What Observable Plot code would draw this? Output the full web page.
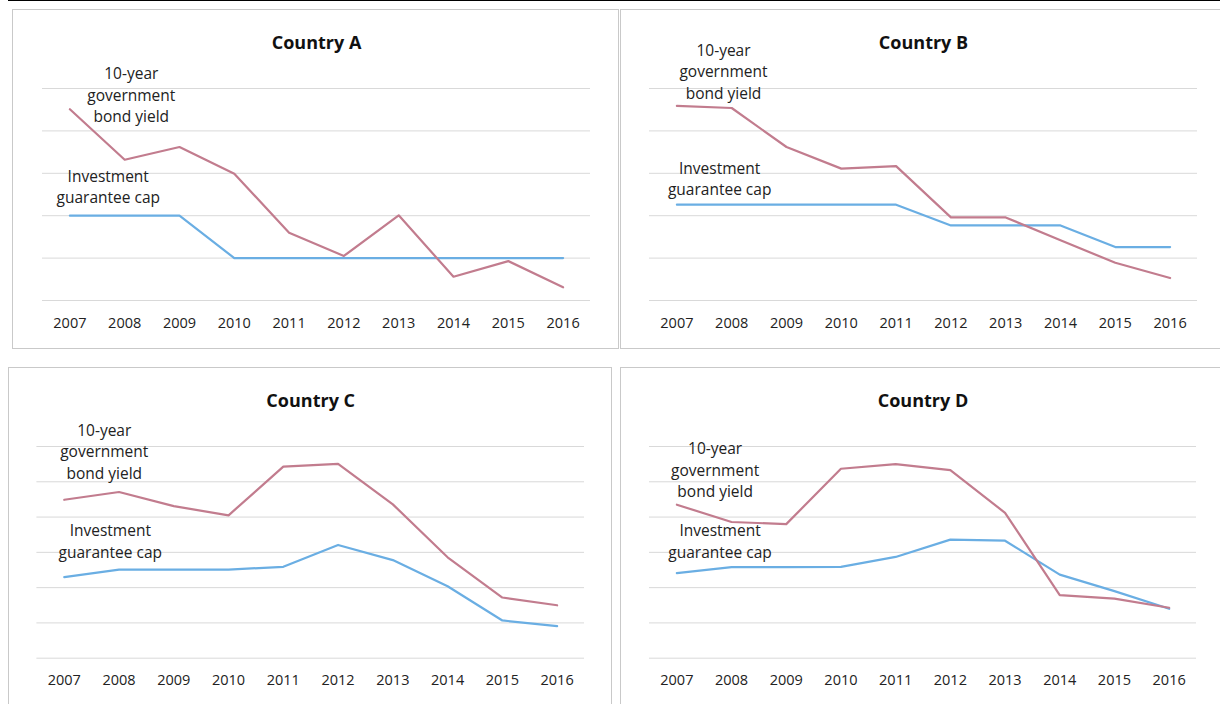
<!DOCTYPE html>
<html>
<head>
<meta charset="utf-8">
<script src="https://cdn.jsdelivr.net/npm/d3@7"></script>
<script src="https://cdn.jsdelivr.net/npm/@observablehq/plot@0.6"></script>
<style>
  html, body { margin: 0; padding: 0; background: #fff; }
  body { width: 1220px; height: 704px; position: relative; overflow: hidden; font-family: "Open Sans", sans-serif; }
  .topline { position: absolute; left: 8px; top: 0; width: 1212px; height: 1px; background: #000; }
  .panel { position: absolute; box-sizing: border-box; border: 1px solid #c9c9c9; background: #fff; }
  .panel svg { display: block; }
</style>
</head>
<body>
<div class="topline"></div>
<script>
// ---- data ----
const years = [2007, 2008, 2009, 2010, 2011, 2012, 2013, 2014, 2015, 2016];

const titles = ["Country A", "Country B", "Country C", "Country D"];

const bondA = [4.51, 3.32, 3.62, 2.99, 1.60, 1.05, 2.01, 0.56, 0.93, 0.31];
const capA  = [2.00, 2.00, 2.00, 1.00, 1.00, 1.00, 1.00, 1.00, 1.00, 1.00];

const bondB = [4.59, 4.54, 3.62, 3.11, 3.17, 1.96, 1.96, 1.42, 0.89, 0.53];
const capB  = [2.26, 2.26, 2.26, 2.26, 2.26, 1.77, 1.77, 1.77, 1.26, 1.26];

const bondC = [4.49, 4.71, 4.31, 4.05, 5.43, 5.51, 4.36, 2.86, 1.72, 1.50];
const capC  = [2.30, 2.51, 2.51, 2.51, 2.59, 3.21, 2.78, 2.04, 1.07, 0.91];

const bondD = [4.35, 3.86, 3.80, 5.37, 5.50, 5.33, 4.12, 1.79, 1.69, 1.43];
const capD  = [2.41, 2.58, 2.58, 2.59, 2.87, 3.36, 3.33, 2.37, 1.90, 1.40];

const gridTop = [0, 1, 2, 3, 4, 5];
const gridBottom = [0, 1, 2, 3, 4, 5, 6];

const bondLabel = "10-year\ngovernment\nbond yield";
const capLabel = "Investment\nguarantee cap";

// label anchor positions (year position, value) per panel
const bondLabelPos = [[2008.12, 4.88], [2007.85, 5.43], [2007.73, 5.89], [2007.70, 5.37]];
const capLabelPos  = [[2007.70, 2.71], [2007.78, 2.90], [2007.84, 3.35], [2007.79, 3.35]];

// ---- layout ----
const panels = [
  {bond: bondA, cap: capA, grid: gridTop,    box: [12, 9, 607, 340],  gx: [42, 590],   gy: [88, 300]},
  {bond: bondB, cap: capB, grid: gridTop,    box: [620, 9, 610, 340], gx: [649, 1197], gy: [88, 300]},
  {bond: bondC, cap: capC, grid: gridBottom, box: [8, 367, 604, 345], gx: [36.4, 584], gy: [446, 657.7]},
  {bond: bondD, cap: capD, grid: gridBottom, box: [620, 367, 610, 345], gx: [649, 1196], gy: [446, 657.7]}
];

const bondColor = "#c27c8e";
const capColor = "#6aaee3";

panels.forEach((p, i) => {
  const [left, top, w, h] = p.box;
  const div = document.createElement("div");
  div.className = "panel";
  div.style.left = left + "px";
  div.style.top = top + "px";
  div.style.width = w + "px";
  div.style.height = h + "px";
  document.body.appendChild(div);

  const svgW = w - 2, svgH = h - 2;
  const ox = left + 1, oy = top + 1;
  const mL = p.gx[0] - ox;
  const mR = ox + svgW - p.gx[1];
  const mT = p.gy[0] - oy;
  const mB = svgH - mT - (p.gy[1] - p.gy[0]);

  const rows = years.map((y, k) => ({year: y, bond: p.bond[k], cap: p.cap[k]}));

  const chart = Plot.plot({
    width: svgW,
    height: svgH,
    marginLeft: mL,
    marginRight: mR,
    marginTop: mT,
    marginBottom: mB,
    style: {fontFamily: "'Open Sans', sans-serif", color: "#222", background: "transparent", overflow: "visible"},
    x: {domain: [2006.5, 2016.5], axis: null},
    y: {domain: [0, p.grid[p.grid.length - 1]], axis: null},
    marks: [
      Plot.ruleY(p.grid, {stroke: "#d9d9d9", strokeWidth: 1}),
      Plot.axisX(years, {tickSize: 0, tickPadding: 17, tickFormat: d => String(d), fontSize: 14.5, label: null}),
      Plot.line(rows, {x: "year", y: "cap", stroke: capColor, strokeWidth: 2.2}),
      Plot.line(rows, {x: "year", y: "bond", stroke: bondColor, strokeWidth: 2.2}),
      Plot.text([bondLabel], {x: bondLabelPos[i][0], y: bondLabelPos[i][1], text: d => d, fontSize: 15.5, lineHeight: 1.4, textAnchor: "middle", lineAnchor: "middle", fill: "#222"}),
      Plot.text([capLabel], {x: capLabelPos[i][0], y: capLabelPos[i][1], text: d => d, fontSize: 15.5, lineHeight: 1.4, textAnchor: "middle", lineAnchor: "middle", fill: "#222"}),
      Plot.text([titles[i]], {frameAnchor: "top", dy: -45, text: d => d, fontSize: 18, fontWeight: "bold", fill: "#111", lineAnchor: "middle"})
    ]
  });
  div.appendChild(chart);
});
</script>
</body>
</html>
